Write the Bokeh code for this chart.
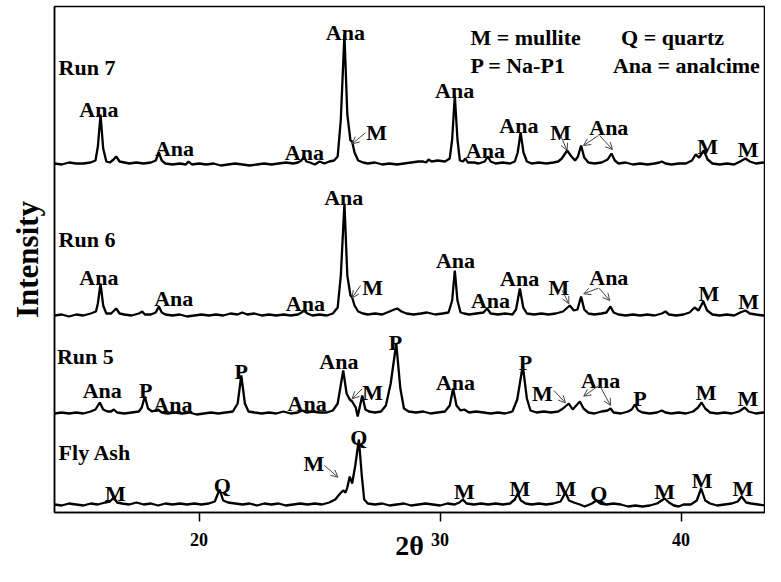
from bokeh.plotting import figure
from bokeh.models import Range1d, FixedTicker, ColumnDataSource, Arrow, OpenHead
from bokeh.core.properties import value
from bokeh.embed import file_html
from bokeh.resources import INLINE

# ---- data: (2theta, intensity above the pattern's own baseline) ----
run7 = [(14.0,1),(14.3,0),(14.6,2),(14.9,1),(15.2,1),(15.5,2),(15.7,4),(15.8,18),(15.91,50),(16.02,16),
        (16.15,3),(16.3,2),(16.45,5),(16.56,8),(16.7,3),(16.9,2),(17.1,1),(17.4,2),(17.7,1),(18.0,2),
        (18.2,4),(18.33,12),(18.45,4),(18.6,1),(18.9,0),(19.2,1),(19.45,0),(19.56,3),(19.7,0),(20.0,1),
        (20.3,0),(20.6,1),(20.9,-1),(21.2,0),(21.5,1),(21.8,0),(22.1,-1),(22.4,0),(22.7,1),(23.0,0),
        (23.3,1),(23.6,2),(23.9,1),(24.1,2),(24.25,4),(24.35,8),(24.45,3),(24.6,2),(24.8,0),(25.0,3),
        (25.2,1),(25.4,3),(25.6,4),(25.75,8),(25.88,45),(26.03,130),(26.15,50),(26.28,24),(26.35,23),
        (26.45,12),(26.6,4),(26.8,2),(27.0,1),(27.3,2),(27.6,0),(27.9,1),(28.2,0),(28.5,1),(28.8,2),
        (29.1,3),(29.3,3),(29.42,2),(29.52,5),(29.65,3),(29.9,4),(30.2,3),(30.4,6),(30.5,25),(30.61,69),
        (30.72,25),(30.82,4),(30.95,3),(31.05,6),(31.15,2),(31.4,2),(31.6,1),(31.85,3),(31.98,8),(32.1,3),
        (32.3,1),(32.6,2),(32.9,1),(33.1,3),(33.22,12),(33.34,32),(33.46,12),(33.6,3),(33.8,1),(34.1,2),
        (34.4,1),(34.7,2),(34.9,3),(35.05,6),(35.27,14),(35.45,8),(35.6,4),(35.72,8),(35.85,19),(35.98,7),
        (36.15,2),(36.4,1),(36.7,2),(36.95,5),(37.11,11),(37.25,4),(37.4,1),(37.7,2),(38.0,0),(38.3,1),
        (38.6,0),(38.9,1),(39.1,2),(39.2,3),(39.35,1),(39.6,0),(39.9,1),(40.2,1),(40.45,4),(40.6,10),
        (40.75,7),(40.94,14),(41.1,5),(41.3,1),(41.6,0),(41.9,1),(42.2,0),(42.45,3),(42.67,6),(42.85,3),
        (43.1,1),(43.4,2),(43.7,0),(44.0,1)]

run6 = [(14.0,0),(14.3,1),(14.6,-1),(14.9,1),(15.2,0),(15.5,2),(15.72,4),(15.8,12),(15.91,32),(16.02,10),
        (16.15,2),(16.35,2),(16.56,7),(16.7,2),(16.9,1),(17.2,0),(17.5,2),(17.64,4),(17.75,1),(18.0,1),
        (18.2,3),(18.33,9),(18.45,3),(18.6,1),(18.9,0),(19.2,1),(19.5,-1),(19.8,0),(20.1,1),(20.4,0),
        (20.7,1),(21.0,0),(21.3,2),(21.6,1),(21.79,3),(22.0,1),(22.3,2),(22.6,0),(22.9,1),(23.2,0),
        (23.5,1),(23.8,0),(24.1,1),(24.25,3),(24.35,5),(24.5,2),(24.7,0),(25.0,1),(25.3,0),(25.55,2),
        (25.75,8),(25.88,40),(26.03,112),(26.15,40),(26.28,20),(26.35,18),(26.45,10),(26.6,4),(26.8,2),
        (27.0,1),(27.3,2),(27.6,1),(27.9,4),(28.1,6),(28.22,7),(28.4,4),(28.6,2),(28.9,1),(29.2,2),
        (29.46,3),(29.8,1),(30.1,2),(30.35,3),(30.5,15),(30.61,45),(30.72,15),(30.85,3),(31.0,2),(31.2,1),
        (31.5,2),(31.8,3),(31.95,7),(32.1,2),(32.4,1),(32.7,2),(33.0,1),(33.15,6),(33.31,27),(33.45,8),
        (33.6,2),(33.9,1),(34.2,2),(34.5,1),(34.8,2),(35.1,4),(35.38,10),(35.55,5),(35.7,6),(35.85,19),
        (35.98,6),(36.15,2),(36.4,1),(36.7,2),(36.9,3),(37.07,9),(37.2,3),(37.4,1),(37.7,0),(38.0,1),
        (38.3,0),(38.6,1),(38.9,0),(39.2,2),(39.35,4),(39.5,1),(39.8,0),(40.1,1),(40.35,3),(40.56,8),
        (40.72,5),(40.92,14),(41.08,5),(41.3,1),(41.6,0),(41.9,1),(42.2,0),(42.45,3),(42.67,5),(42.85,2),
        (43.1,1),(43.4,0),(43.7,1),(44.0,-1)]

run5 = [(14.0,0),(14.3,1),(14.6,0),(14.9,1),(15.2,0),(15.5,2),(15.7,4),(15.88,11),(16.02,4),(16.2,2),
        (16.35,2),(16.46,4),(16.6,1),(16.9,0),(17.2,1),(17.5,2),(17.62,6),(17.75,17),(17.88,5),(18.05,2),
        (18.29,4),(18.45,1),(18.7,0),(19.0,1),(19.3,0),(19.6,1),(19.9,-1),(20.2,0),(20.5,1),(20.8,0),
        (21.1,1),(21.4,2),(21.6,10),(21.75,38),(21.9,10),(22.05,2),(22.3,1),(22.6,0),(22.9,1),(23.2,0),
        (23.5,2),(23.8,0),(24.1,1),(24.28,3),(24.45,1),(24.7,2),(25.0,1),(25.3,1),(25.55,3),(25.75,10),
        (25.98,43),(26.12,20),(26.25,14),(26.35,12),(26.5,6),(26.58,-3),(26.77,18),(26.9,4),(27.05,2),
        (27.3,1),(27.55,2),(27.75,8),(27.95,30),(28.18,70),(28.35,25),(28.5,5),(28.7,2),(29.0,1),(29.3,2),
        (29.6,0),(29.9,1),(30.2,2),(30.4,8),(30.54,25),(30.68,8),(30.85,3),(31.0,4),(31.2,1),(31.5,2),
        (31.8,1),(32.1,0),(32.4,1),(32.7,0),(33.0,2),(33.2,14),(33.43,48),(33.6,15),(33.75,3),(34.0,1),
        (34.3,2),(34.6,1),(34.9,2),(35.1,5),(35.34,10),(35.5,4),(35.65,8),(35.8,12),(35.95,5),(36.15,1),
        (36.4,0),(36.7,2),(36.95,3),(37.07,5),(37.2,1),(37.5,0),(37.8,2),(37.95,4),(38.08,9),(38.22,3),
        (38.4,1),(38.7,0),(39.0,1),(39.2,3),(39.35,1),(39.6,0),(39.9,1),(40.2,0),(40.5,2),(40.7,6),
        (40.85,11),(41.0,5),(41.2,1),(41.5,0),(41.8,1),(42.1,0),(42.4,2),(42.64,6),(42.8,2),(43.1,0),
        (43.4,1),(43.7,0),(44.0,1)]

fly_ash = [(14.0,1),(14.3,0),(14.6,2),(14.9,1),(15.2,0),(15.5,2),(15.8,1),(16.1,3),(16.3,4),(16.46,8),
           (16.6,3),(16.8,2),(17.1,1),(17.4,3),(17.7,1),(18.0,2),(18.3,0),(18.6,2),(18.9,1),(19.2,2),
           (19.5,1),(19.8,2),(20.1,1),(20.4,2),(20.65,4),(20.85,16),(21.0,5),(21.2,3),(21.5,2),(21.8,1),
           (22.1,2),(22.4,0),(22.7,2),(23.0,1),(23.3,2),(23.6,0),(23.9,1),(24.2,2),(24.5,1),(24.8,2),
           (25.1,1),(25.4,3),(25.65,6),(25.85,12),(25.98,15),(26.08,13),(26.15,18),(26.25,29),(26.35,22),
           (26.48,40),(26.63,66),(26.75,30),(26.85,6),(27.0,2),(27.3,1),(27.6,2),(27.9,0),(28.2,1),(28.5,2),
           (28.8,0),(29.1,1),(29.4,2),(29.7,1),(30.0,0),(30.3,2),(30.6,1),(30.8,3),(30.94,6),(31.1,2),
           (31.4,1),(31.7,2),(32.0,1),(32.3,2),(32.6,1),(32.9,2),(33.1,6),(33.22,12),(33.35,5),(33.55,2),
           (33.8,1),(34.1,2),(34.4,1),(34.7,2),(35.0,4),(35.2,13),(35.35,5),(35.55,3),(35.8,1),(36.0,-1),
           (36.3,2),(36.48,5),(36.65,2),(36.9,1),(37.2,2),(37.5,1),(37.8,-1),(38.1,0),(38.4,-1),(38.7,0),
           (39.0,2),(39.32,7),(39.5,3),(39.7,0),(39.9,-1),(40.1,1),(40.4,1),(40.65,5),(40.83,17),(41.0,5),
           (41.2,2),(41.5,0),(41.8,1),(42.1,2),(42.35,4),(42.51,9),(42.7,3),(42.9,2),(43.2,1),(43.5,0),
           (43.8,-1),(44.0,0)]

sample_names = ["Fly Ash", "Run 5", "Run 6", "Run 7"]
x_ticks = [20, 30, 40]

# ---- layout: stacking offsets and annotation positions ----
patterns = [fly_ash, run5, run6, run7]
offsets = [7, 99, 197, 348]
name_pos = [(14.17, 60.3), (14.1, 156.3), (14.17, 272.7), (14.17, 445.3)]

phase_labels = [
    ("Ana", 15.84, 402.7), ("Ana", 18.98, 363.7), ("Ana", 24.37, 360.3), ("Ana", 26.07, 480.3),
    ("M", 27.37, 380.3), ("Ana", 30.6, 422), ("Ana", 31.88, 362), ("Ana", 33.27, 387),
    ("M", 35.0, 380.3), ("Ana", 37.0, 385.3), ("M", 41.1, 366), ("M", 42.78, 362.7),
    ("Ana", 15.84, 235.3), ("Ana", 18.95, 213.7), ("Ana", 24.41, 208.7), ("Ana", 26.0, 315.3),
    ("M", 27.2, 225.3), ("Ana", 30.64, 252), ("Ana", 32.09, 212), ("Ana", 33.3, 233.7),
    ("M", 34.93, 225.3), ("Ana", 37.0, 235.3), ("M", 41.15, 218.7), ("M", 42.8, 211),
    ("Ana", 15.98, 122), ("P", 17.78, 122), ("Ana", 18.91, 107.7), ("P", 21.75, 141),
    ("Ana", 24.48, 109.3), ("Ana", 25.8, 151), ("M", 27.2, 120.3), ("P", 28.15, 170),
    ("Ana", 30.64, 130.3), ("P", 33.54, 150.3), ("M", 34.24, 118.7), ("Ana", 36.66, 132),
    ("P", 38.29, 114.3), ("M", 41.04, 120.3), ("M", 42.77, 113.7),
    ("M", 16.53, 18.7), ("Q", 20.96, 27), ("M", 24.76, 48.7), ("Q", 26.63, 75.3),
    ("M", 31.01, 21), ("M", 33.31, 24.3), ("M", 35.22, 24.3), ("Q", 36.59, 19),
    ("M", 39.32, 21), ("M", 40.87, 32), ("M", 42.56, 24.3),
]

arrows = [
    (26.90, 379.7, 26.35, 368.7), (35.0, 377, 35.27, 362),
    (36.57, 377, 35.95, 367), (36.62, 377, 37.15, 363),
    (26.70, 227, 26.35, 214.7), (35.07, 222, 35.34, 208.7),
    (36.56, 224.3, 35.96, 218.7), (36.6, 224.3, 37.04, 212),
    (26.77, 123.7, 26.35, 113.7), (34.72, 122, 35.2, 109.7),
    (36.58, 127, 35.96, 116.3), (36.62, 127, 37.07, 107),
    (25.20, 47, 25.76, 35.3),
]

legend_lines = [("M = mullite", 31.26, 474.7), ("Q = quartz", 37.51, 474.7),
                ("P  = Na-P1", 31.26, 447), ("Ana = analcime", 37.17, 447)]

SERIF = "Liberation Serif"
FS = "22px"

p = figure(width=765, height=566, x_range=Range1d(14, 43.46), y_range=Range1d(0, 506),
           output_backend="svg", toolbar_location=None,
           min_border_left=54, min_border_right=1, min_border_top=6, min_border_bottom=54)
p.background_fill_color = "white"
p.border_fill_color = "white"
p.outline_line_color = "black"
p.outline_line_width = 1.5
p.grid.visible = False

for pat, off in zip(patterns, offsets):
    xs = [a for a, b in pat]
    ys = [b + off for a, b in pat]
    p.line(xs, ys, line_color="black", line_width=2.3)

nsrc = ColumnDataSource(dict(x=[a for a, b in name_pos], y=[b for a, b in name_pos], t=sample_names))
p.text(x="x", y="y", text="t", source=nsrc, text_font=value(SERIF), text_font_style="bold",
       text_font_size=FS, text_align="left", text_baseline="alphabetic", text_color="black")

lsrc = ColumnDataSource(dict(x=[l[1] for l in phase_labels], y=[l[2] for l in phase_labels],
                             t=[l[0] for l in phase_labels]))
p.text(x="x", y="y", text="t", source=lsrc, text_font=value(SERIF), text_font_style="bold",
       text_font_size=FS, text_align="center", text_baseline="alphabetic", text_color="black")

gsrc = ColumnDataSource(dict(x=[l[1] for l in legend_lines], y=[l[2] for l in legend_lines],
                             t=[l[0] for l in legend_lines]))
p.text(x="x", y="y", text="t", source=gsrc, text_font=value(SERIF), text_font_style="bold",
       text_font_size=FS, text_align="left", text_baseline="alphabetic", text_color="black")

for xs0, ys0, xe, ye in arrows:
    p.add_layout(Arrow(end=OpenHead(size=7, line_width=1, line_color="#444444"),
                       x_start=xs0, y_start=ys0, x_end=xe, y_end=ye,
                       line_color="#444444", line_width=1))

p.xaxis.ticker = FixedTicker(ticks=x_ticks, minor_ticks=[])
p.xaxis.axis_label = "2θ"
p.xaxis.axis_label_text_font = SERIF
p.xaxis.axis_label_text_font_style = "bold"
p.xaxis.axis_label_text_font_size = "28px"
p.xaxis.axis_label_text_color = "black"
p.xaxis.axis_label_standoff = -19
p.xaxis.major_label_text_font = SERIF
p.xaxis.major_label_text_font_style = "bold"
p.xaxis.major_label_text_font_size = "18px"
p.xaxis.major_label_text_color = "black"
p.xaxis.major_label_standoff = 11
p.xaxis.major_tick_out = 9
p.xaxis.major_tick_in = 0
p.xaxis.minor_tick_out = 0
p.xaxis.minor_tick_in = 0
p.xaxis.axis_line_width = 1.5
p.xaxis.axis_line_color = "black"
p.xaxis.major_tick_line_width = 1.5
p.xaxis.major_tick_line_color = "black"

p.yaxis.ticker = FixedTicker(ticks=[], minor_ticks=[])
p.yaxis.axis_label = "Intensity"
p.yaxis.axis_label_text_font = SERIF
p.yaxis.axis_label_text_font_style = "bold"
p.yaxis.axis_label_text_font_size = "31px"
p.yaxis.axis_label_text_color = "black"
p.yaxis.axis_label_standoff = 10
p.yaxis.major_tick_out = 0
p.yaxis.major_tick_in = 0
p.yaxis.minor_tick_out = 0
p.yaxis.minor_tick_in = 0
p.yaxis.axis_line_width = 1.5
p.yaxis.axis_line_color = "black"

open("out.html", "w").write(file_html(p, INLINE))
